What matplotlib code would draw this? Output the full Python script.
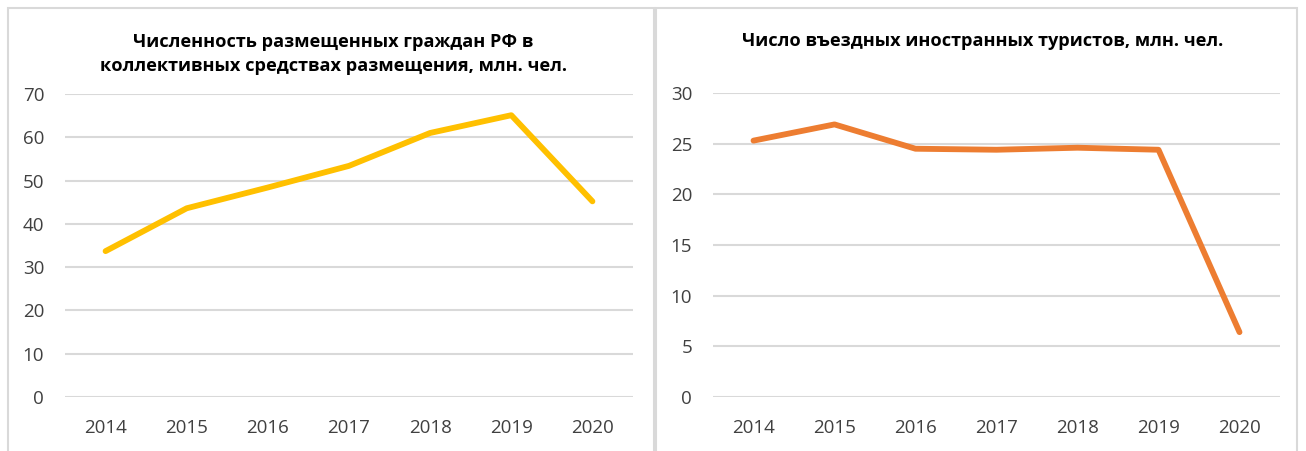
import matplotlib
matplotlib.use("Agg")
import matplotlib.pyplot as plt
from matplotlib.patches import Rectangle

years = ["2014", "2015", "2016", "2017", "2018", "2019", "2020"]
residents = [33.7, 43.6, 48.4, 53.4, 61.0, 65.1, 45.2]
foreign = [25.3, 26.9, 24.5, 24.4, 24.6, 24.4, 6.4]

left_title = "Численность размещенных граждан РФ в\nколлективных средствах размещения, млн. чел."
right_title = "Число въездных иностранных туристов, млн. чел."

W, H = 1306, 451
fig = plt.figure(figsize=(W / 100, H / 100), dpi=100)
fig.patch.set_facecolor("white")

FONT = "Open Sans"
grid_c = "#d9d9d9"
text_c = "#404040"

def px_axes(x0, y0, x1, y1):
    return fig.add_axes([x0 / W, 1 - y1 / H, (x1 - x0) / W, (y1 - y0) / H])

# panel borders
for (x0, x1) in [(8, 654), (656, 1297)]:
    fig.patches.append(Rectangle((x0 / W, -0.01), (x1 - x0) / W, 1 - 8 / H + 0.01,
                                 transform=fig.transFigure, fill=False,
                                 edgecolor=grid_c, linewidth=1.5))

def style(ax, data, color, ymax, step):
    x = list(range(len(years)))
    ax.plot(x, data, color=color, linewidth=4.2, solid_capstyle="round",
            solid_joinstyle="round", zorder=3)
    ax.set_xlim(-0.5, len(years) - 0.5)
    ax.set_ylim(0, ymax)
    ax.set_yticks(list(range(0, ymax + 1, step)))
    ax.set_xticks(x)
    ax.set_xticklabels(years)
    ax.grid(axis="y", color=grid_c, linewidth=1.5, zorder=0)
    for s in ax.spines.values():
        s.set_visible(False)
    ax.tick_params(length=0, labelsize=13.5, labelcolor=text_c)
    ax.tick_params(axis="y", pad=15)
    ax.tick_params(axis="x", pad=16)
    for lab in ax.get_xticklabels() + ax.get_yticklabels():
        lab.set_fontfamily(FONT)
    for ln in ax.lines:
        ln.set_clip_on(False)

ax1 = px_axes(65, 94, 633, 397)
style(ax1, residents, "#ffc000", 70, 10)
ax2 = px_axes(713, 93, 1280, 397)
style(ax2, foreign, "#ed7d31", 30, 5)

fig.text(333 / W, 1 - 54 / H, left_title, ha="center", va="center",
         fontsize=13.1, fontweight="bold", family=FONT, color="black",
         linespacing=1.45)
fig.text(983 / W, 1 - 41 / H, right_title, ha="center", va="center",
         fontsize=13.1, fontweight="bold", family=FONT, color="black")

fig.savefig("out.png", dpi=100, facecolor="white")
